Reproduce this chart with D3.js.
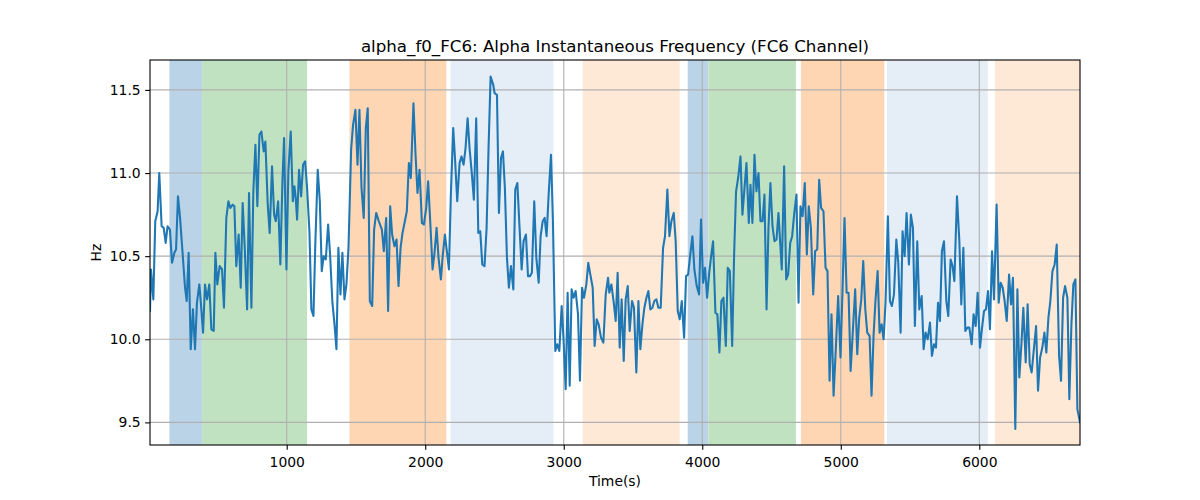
<!DOCTYPE html>
<html><head><meta charset="utf-8">
<script src="https://cdn.jsdelivr.net/npm/d3@7"></script>
<style>body{margin:0;background:#fff;} text{font-family:"DejaVu Sans",sans-serif;}</style>
</head><body><svg id="c" width="1200" height="500"></svg>
<script>
const times = [
13,20,37,51,68,80,97,112,126,140,157,172,189,201,215,230,249,266,278,292,307,323,338,352,369,381,396,410,425,441,456,473,485,499,516,533,547,564,579,593,610,622,636,653,668,682,697,714,728,745,759,774,788,803,817,834,
846,863,877,894,909,921,938,954,969,981,998,1012,1029,1044,1056,1065,1075,1089,1104,1118,1133,1147,1164,1178,1193,1207,1224,1239,1253,1267,1282,1299,1313,1330,1345,1359,1373,1388,1402,1417,1431,1446,1465,1479,1496,1511,1525,1540,1556,1571,1585,1600,1617,1631,1646,1665,
1687,1701,1718,1732,1747,1761,1778,1793,1807,1822,1836,1853,1867,1882,1896,1915,1930,1944,1959,1976,1990,2007,2021,2036,2053,2067,2082,2096,2113,2127,2142,2156,2171,2185,2202,2216,2231,2248,2262,2277,2291,2306,2320,2337,2351,2368,2383,2397,2412,2428,2443,2457,2472,2491,
2501,2518,2532,2547,2561,2575,2590,2604,2619,2636,2650,2665,2681,2696,2710,2727,2742,2756,2770,2787,2802,2819,2833,2848,2862,2876,2891,2908,2922,2939,2953,2968,2985,2999,3014,3028,3043,3057,3071,3086,3103,3117,3132,3146,3163,3177,3194,3209,3223,3238,3252,3269,3286,3303,3320,
3329,3344,3361,3375,3389,3404,3418,3433,3447,3462,3476,3493,3507,3524,3539,3553,3568,3582,3597,3611,3625,3640,3654,3669,3683,3700,3717,3731,3748,3763,3777,3794,3808,3823,3837,3852,3869,3883,3898,3912,3929,3943,3960,3977,3991,4006,4020,4035,4049,4064,4078,4095,4109,4124,4138,4153,
4170,4184,4199,4216,4230,4244,4259,4276,4290,4305,4319,4336,4348,4362,4377,4391,4406,4420,4435,4449,4464,4478,4492,4507,4521,4536,4550,4574,4591,4606,4620,4635,4649,4663,4680,4695,4709,4724,4740,4755,4769,4784,4801,4815,4830,4844,4858,4875,4890,4904,4919,4933,4948,4964,4981,
4998,5013,5027,5042,5056,5071,5104,5119,5133,5148,5162,5177,5191,5208,5222,5237,5251,5266,5280,5295,5309,5323,5340,5355,5369,5384,5401,5415,5432,5446,5461,5475,5492,5506,5521,5535,5552,5567,5584,5598,5612,5627,5644,5658,5673,5687,5702,5716,5730,5745,5762,5776,5793,5807,5820,
5839,5856,5870,5885,5899,5914,5928,5945,5959,5974,5988,6005,6020,6034,6048,6063,6077,6092,6106,6125,6140,6154,6169,6183,6198,6215,6229,6243,6260,6275,6289,6304,6318,6335,6349,6364,6378,6395,6410,6424,6439,6455,6470,6484,6499,6513,6528,6544,6559,6576,6590,6605,6619,6636,6650,6665,6679,6694,6708,6727
];
const hz = [
10.17,10.42,10.24,10.71,10.77,11.0,10.68,10.67,10.58,10.68,10.66,10.46,10.52,10.54,10.86,10.73,10.51,10.31,10.23,10.52,9.94,10.18,9.94,10.22,10.33,10.21,10.04,10.33,10.24,10.33,10.06,10.05,10.52,10.33,10.44,10.42,10.19,10.73,10.83,10.79,10.81,10.80,10.44,10.63,10.31,10.82,10.55,10.18,10.88,10.19,10.89,11.17,10.80,11.23,11.25,11.13,
11.19,10.81,10.64,11.04,10.75,10.71,10.83,10.45,10.95,11.21,10.42,11.01,11.25,10.83,10.92,10.85,10.72,11.02,10.86,11.05,11.07,10.91,10.65,10.18,10.14,10.59,11.02,10.83,10.41,10.5,10.48,10.69,10.51,10.22,10.09,9.94,10.55,10.27,10.52,10.24,10.33,10.55,11.14,11.29,11.38,11.05,11.38,10.91,10.73,11.27,11.39,10.23,10.20,10.66,10.76,10.71,
10.66,10.53,10.73,10.17,10.80,10.63,10.56,10.60,10.32,10.55,10.64,10.71,10.77,11.06,10.97,11.42,11.11,10.88,11.02,10.70,10.69,10.79,10.95,10.71,10.42,10.52,10.67,10.49,10.36,10.51,10.63,10.53,10.42,10.87,11.27,11.07,10.83,11.06,11.10,11.05,11.15,11.33,11.15,10.99,10.84,11.33,10.64,10.65,10.45,10.44,10.67,11.15,11.58,11.53,
11.48,11.47,10.76,11.09,11.13,10.91,10.49,10.31,10.44,10.30,10.90,10.94,10.67,10.42,10.59,10.63,10.38,10.38,10.40,10.83,10.49,10.34,10.62,10.71,10.73,10.62,10.87,11.11,10.71,9.93,9.97,9.93,10.20,9.99,9.70,10.28,9.72,10.30,10.25,10.29,10.15,9.75,10.31,10.25,10.33,10.46,10.38,10.31,9.96,10.12,10.09,10.01,9.98,10.27,10.37,
10.28,10.33,10.22,10.11,10.40,9.95,10.24,9.87,10.24,10.32,10.05,10.23,10.19,9.80,10.23,9.94,10.09,10.19,10.25,10.29,10.18,10.19,10.23,10.24,10.19,10.19,10.55,10.62,10.90,10.62,10.71,10.76,10.59,10.17,10.12,10.23,10.01,10.38,10.39,10.50,10.62,10.42,10.32,10.27,10.72,10.34,10.43,10.25,10.39,10.50,10.59,10.16,10.15,9.92,10.23,10.25,
9.96,10.43,10.41,9.96,10.51,10.89,10.97,11.10,10.75,10.91,11.06,10.70,10.93,10.70,11.11,10.89,11.0,10.71,10.71,10.87,10.18,10.67,10.94,10.68,10.59,10.60,10.76,10.42,11.04,10.36,10.39,10.58,10.62,10.75,10.87,10.22,10.80,10.74,10.94,10.51,10.80,10.67,10.27,10.53,10.54,10.96,10.79,10.77,10.43,10.41,9.75,10.15,9.66,9.94,10.26,
9.89,10.31,10.73,10.28,10.28,9.81,10.30,9.91,10.13,10.24,10.47,10.18,10.04,10.02,9.66,10.03,10.24,10.41,10.04,10.09,10.0,10.22,10.74,10.23,10.20,10.27,10.60,10.46,10.04,10.65,10.50,10.76,10.45,10.75,10.67,10.08,10.59,10.18,10.26,9.94,10.04,10.0,10.10,9.90,9.97,9.95,10.22,10.11,10.53,10.59,10.23,10.14,10.48,10.44,10.35,
10.86,10.59,10.21,10.55,10.05,10.07,10.07,9.97,10.15,10.08,10.28,9.95,10.07,10.17,10.18,10.29,10.06,10.53,10.24,10.81,10.22,10.34,10.31,10.23,10.11,10.39,10.21,10.37,9.46,10.30,9.77,9.97,10.19,9.86,10.21,9.85,9.80,9.95,10.08,9.69,9.89,9.95,10.04,9.92,10.13,10.23,10.41,10.45,10.57,9.90,9.75,10.25,10.32,10.25,9.64,10.09,10.33,10.36,9.58,9.5
];
const spanStart = [153, 389, 1453, 2183, 3137, 3895, 4045, 4712, 5333, 6113];
const spanEnd   = [389, 1147, 2152, 2925, 3837, 4045, 4676, 5314, 6061, 6727];
const spanColor = ["#bad3e7", "#c1e2c0", "#fed6b3", "#e5edf7", "#fee9d7", "#bad3e7", "#c1e2c0", "#fed6b3", "#e5edf7", "#fee9d7"];
const xTicks = [1000, 2000, 3000, 4000, 5000, 6000];
const yTicks = [9.5, 10.0, 10.5, 11.0, 11.5];
const titleText = "alpha_f0_FC6: Alpha Instantaneous Frequency (FC6 Channel)";

const L = 150, R = 1080, T = 60, B = 445;
const svg = d3.select("#c");
const x = d3.scaleLinear().domain(d3.extent(times)).range([L, R]);
const y = d3.scaleLinear().domain([9.364, 11.68]).range([B, T]);

const clip = svg.append("defs").append("clipPath").attr("id","pc").append("rect")
  .attr("x", L).attr("y", T).attr("width", R - L).attr("height", B - T);

const g = svg.append("g").attr("clip-path","url(#pc)");
g.selectAll("rect.span").data(spanStart.map((s,i)=>({s, e: spanEnd[i], c: spanColor[i]})))
  .enter().append("rect").attr("class","span")
  .attr("x", d => x(d.s)).attr("width", d => x(d.e) - x(d.s))
  .attr("y", T).attr("height", B - T).attr("fill", d => d.c);

// grid
g.selectAll("line.gx").data(xTicks).enter().append("line")
  .attr("x1", d => x(d)).attr("x2", d => x(d)).attr("y1", T).attr("y2", B)
  .attr("stroke", "#b0b0b0").attr("stroke-width", 1.1);
g.selectAll("line.gy").data(yTicks).enter().append("line")
  .attr("y1", d => y(d)).attr("y2", d => y(d)).attr("x1", L).attr("x2", R)
  .attr("stroke", "#b0b0b0").attr("stroke-width", 1.1);

const pts = times.map((t,i) => [t, hz[i]]);
g.append("path").datum(pts)
  .attr("d", d3.line().x(d => x(d[0])).y(d => y(d[1])))
  .attr("fill","none").attr("stroke","#1f77b4").attr("stroke-width",2.08)
  .attr("stroke-linejoin","round").attr("stroke-linecap","square");

// axes
const xa = svg.append("g").attr("transform", `translate(0,${B})`)
  .call(d3.axisBottom(x).tickValues(xTicks).tickFormat(d3.format("d")).tickSizeOuter(0).tickSize(4.86).tickPadding(4));
const ya = svg.append("g").attr("transform", `translate(${L},0)`)
  .call(d3.axisLeft(y).tickValues(yTicks).tickFormat(d3.format(".1f")).tickSizeOuter(0).tickSize(4.86).tickPadding(4.5));
[xa, ya].forEach(a => {
  a.select(".domain").remove();
  a.selectAll(".tick line").attr("stroke","#000").attr("stroke-width",1.1);
  a.selectAll(".tick text").attr("fill","#000").style("font-size","13.9px").style("font-family","DejaVu Sans");
});
xa.selectAll(".tick text").attr("dy","0.95em");

svg.append("rect").attr("x", L).attr("y", T).attr("width", R - L).attr("height", B - T)
  .attr("fill","none").attr("stroke","#000").attr("stroke-width",1.1);

svg.append("text").attr("x", (L + R) / 2).attr("y", 52).attr("text-anchor","middle")
  .style("font-size","16.67px").text(titleText);
svg.append("text").attr("x", (L + R) / 2).attr("y", 486).attr("text-anchor","middle")
  .style("font-size","13.9px").text("Time(s)");
svg.append("text").attr("transform", `translate(101,${(T + B) / 2}) rotate(-90)`).attr("text-anchor","middle")
  .style("font-size","13.9px").text("Hz");
</script></body></html>
